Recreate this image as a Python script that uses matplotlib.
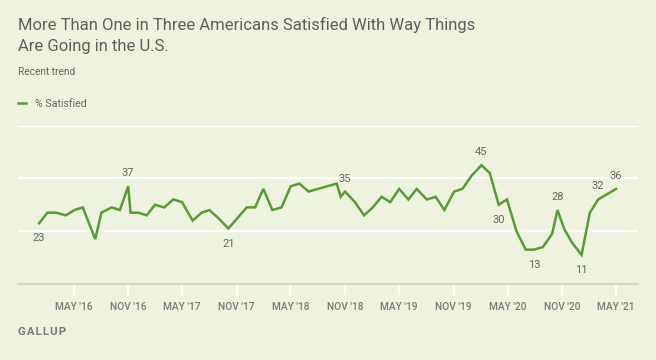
import datetime as dt
import matplotlib
matplotlib.use("Agg")
import matplotlib.pyplot as plt
import matplotlib.dates as mdates

# Gallup: % satisfied with the way things are going in the U.S.
poll_dates = [
    "2016-01-06", "2016-02-03", "2016-03-03", "2016-04-05", "2016-05-04", "2016-06-01",
    "2016-07-13", "2016-08-03", "2016-09-06", "2016-10-04", "2016-11-01", "2016-11-09",
    "2016-12-05", "2017-01-02", "2017-01-30", "2017-03-02", "2017-04-02", "2017-05-01",
    "2017-06-06", "2017-07-06", "2017-08-01", "2017-08-31", "2017-10-04", "2017-12-05",
    "2018-01-02", "2018-01-30", "2018-03-01", "2018-04-01", "2018-05-02", "2018-05-31",
    "2018-07-01", "2018-10-04", "2018-10-17", "2018-11-01", "2018-12-04", "2019-01-04",
    "2019-02-02", "2019-03-04", "2019-04-02", "2019-05-02", "2019-06-02", "2019-06-30",
    "2019-08-03", "2019-09-02", "2019-10-01", "2019-11-03", "2019-12-01", "2020-01-01",
    "2020-02-03", "2020-03-02", "2020-04-01", "2020-04-29", "2020-05-31", "2020-07-01",
    "2020-07-29", "2020-08-28", "2020-09-28", "2020-10-16", "2020-11-07", "2020-12-02",
    "2021-01-05", "2021-02-02", "2021-03-02", "2021-04-01", "2021-05-01",
]
satisfied = [
    23, 27, 27, 26, 28, 29,
    17, 27, 29, 28, 37, 27,
    27, 26, 30, 29, 32, 31,
    24, 27, 28, 25, 21, 29,
    29, 36, 28, 29, 37, 38,
    35, 38, 33, 35, 31, 26,
    29, 33, 31, 36, 32, 36,
    32, 33, 28, 35, 36, 41,
    45, 42, 30, 32, 20, 13,
    13, 14, 19, 28, 21, 16,
    11, 27, 32, 34, 36,
]
labelled = ["2016-01-06", "2016-11-01", "2017-10-04", "2018-11-01", "2020-02-03",
            "2020-04-01", "2020-07-29", "2020-10-16", "2021-01-05", "2021-03-02",
            "2021-05-01"]
tick_months = ["2016-05", "2016-11", "2017-05", "2017-11", "2018-05", "2018-11",
               "2019-05", "2019-11", "2020-05", "2020-11", "2021-05"]

bg = "#edf3df"
green = "#5a9b37"
grey = "#666666"

plt.rcParams["font.family"] = ["Roboto", "DejaVu Sans"]

dates = [dt.datetime.strptime(d, "%Y-%m-%d") for d in poll_dates]

fig = plt.figure(figsize=(6.56, 3.6), dpi=100, facecolor=bg)
ax = fig.add_axes([18 / 656, 76 / 360, (637.7 - 18) / 656, 158.5 / 360])
ax.set_facecolor(bg)

for y in [20, 40, 60]:
    ax.axhline(y, color="white", lw=1.6, zorder=1)

ax.plot(dates, satisfied, color=green, lw=1.8, zorder=3, label="% Satisfied",
        solid_joinstyle="miter")

# value labels: below at local lows, above otherwise
for d in labelled:
    i = poll_dates.index(d)
    v = satisfied[i]
    prev_v = satisfied[i - 1] if i > 0 else v + 1
    next_v = satisfied[i + 1] if i + 1 < len(satisfied) else v - 1
    below = v <= prev_v and v <= next_v
    off = -15 if below else 13
    ax.annotate(str(v), (dates[i], v), xytext=(0, off), textcoords="offset pixels",
                ha="center", va="center", fontsize=8, color=grey)

ax.set_xlim(dt.datetime(2015, 10, 27), dt.datetime(2021, 7, 13))
ax.set_ylim(0, 60)
ax.set_yticks([])
ticks = [dt.datetime.strptime(m, "%Y-%m") for m in tick_months]
ax.set_xticks(ticks)
ax.set_xticklabels([t.strftime("%b '%y").upper() for t in ticks])
ax.tick_params(axis="x", direction="out", length=8, width=1.5, color="white",
               labelsize=7.3, labelcolor="#7a7a7a", pad=5)
for lab in ax.get_xticklabels():
    lab.set_fontweight("medium")

for s in ["top", "right", "left"]:
    ax.spines[s].set_visible(False)
ax.spines["bottom"].set_color("#d3d8c8")
ax.spines["bottom"].set_linewidth(1.5)

fig.text(18 / 656, 1 - 25 / 360, "More Than One in Three Americans Satisfied With Way Things",
         fontsize=12, color="#5f5f5f", va="center", ha="left")
fig.text(18 / 656, 1 - 47 / 360, "Are Going in the U.S.",
         fontsize=12, color="#5f5f5f", va="center", ha="left")
fig.text(18 / 656, 1 - 72 / 360, "Recent trend", fontsize=7.3, color=grey,
         va="center", ha="left")

fig.legend(loc="center left", bbox_to_anchor=(18 / 656, 1 - 104 / 360), frameon=False,
           fontsize=7.7, handlelength=0.75, handletextpad=0.8, borderpad=0,
           borderaxespad=0, labelcolor=grey)

fig.text(18 / 656, 1 - 332 / 360, "G A L L U P".replace(" ", "\u200a"), fontsize=8.2,
         color="#7a7a7a", fontweight="semibold", va="center", ha="left")

fig.savefig("out.png", dpi=100, facecolor=bg)
